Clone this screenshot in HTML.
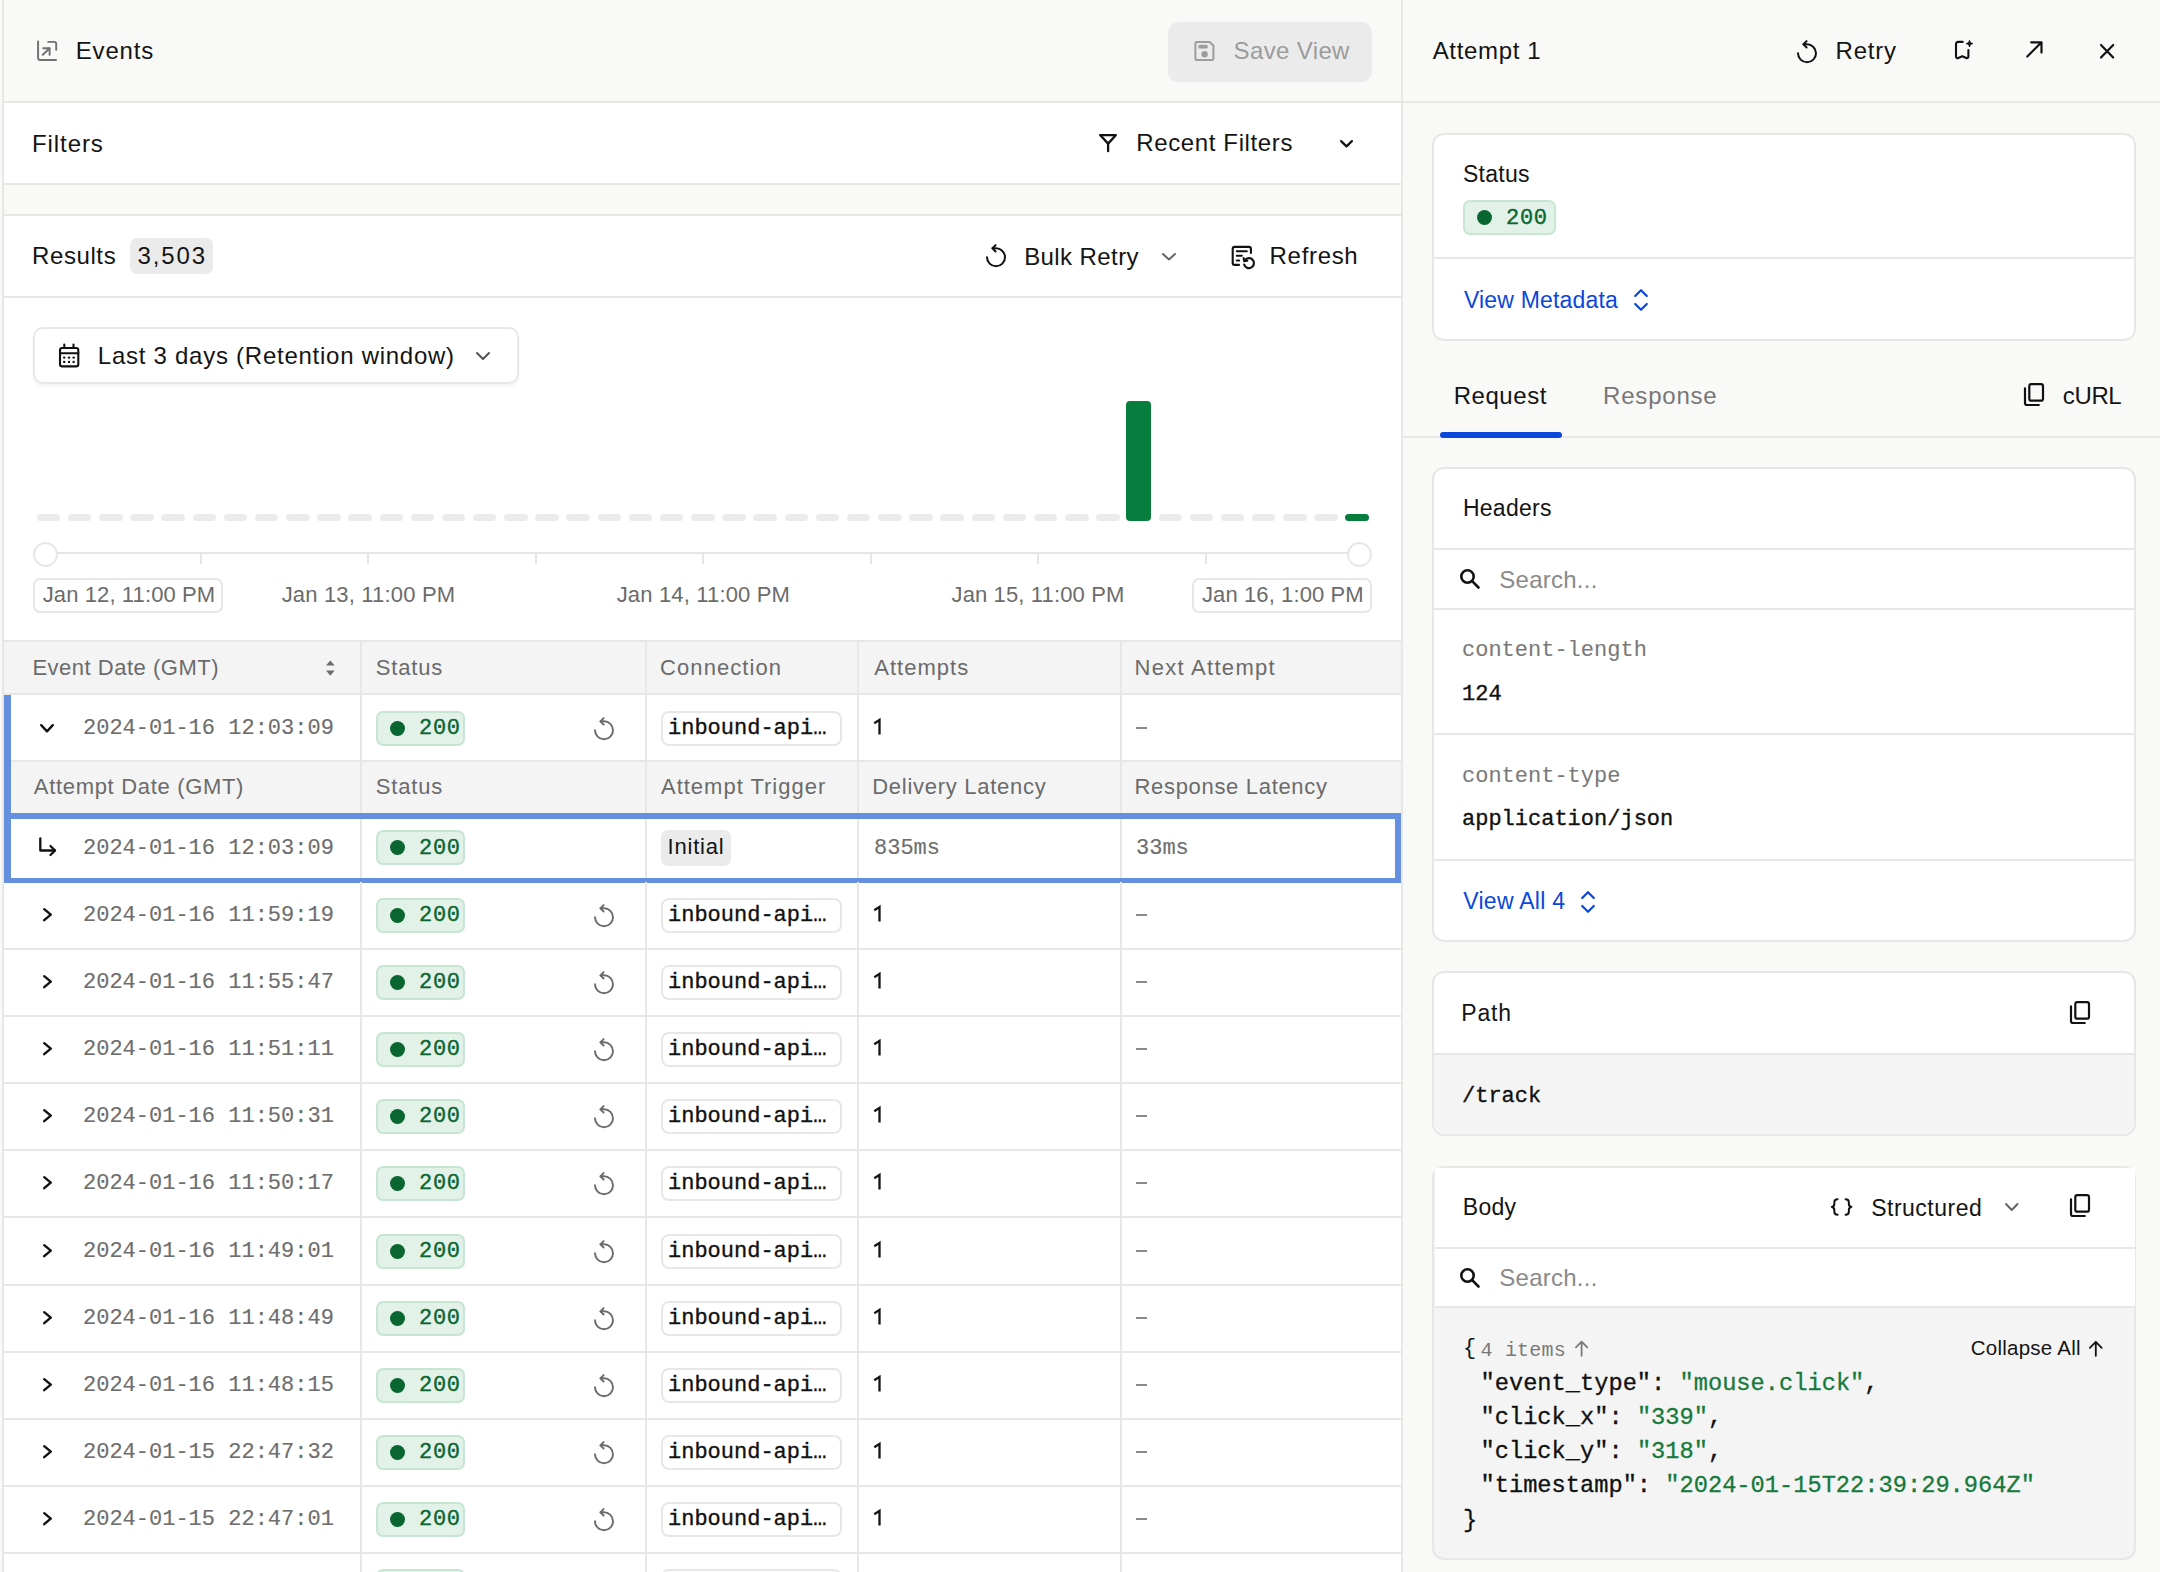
<!DOCTYPE html><html><head><meta charset="utf-8"><style>
*{box-sizing:border-box;margin:0;padding:0}
html,body{width:2160px;height:1572px;overflow:hidden;background:#f9f9f8;font-family:'Liberation Sans', sans-serif;color:#141414;letter-spacing:0.6px}
.abs{position:absolute;white-space:nowrap}
svg.abs{overflow:visible}
.t24{font-size:24px;line-height:28px}
.t22{font-size:22px;line-height:26px;letter-spacing:0.8px}
.m22{font-family:'Liberation Mono', monospace;font-size:22px;line-height:26px;letter-spacing:0;-webkit-text-stroke:0.35px currentColor}
.hl{position:absolute;height:2px;background:#e7e7e6}
.vl{position:absolute;width:2px;background:#e7e7e6}
.card{position:absolute;left:1432px;width:704px;background:#fff;border:2px solid #e7e7e6;border-radius:12px;overflow:hidden}
</style></head><body>
<div class="abs" style="left:4px;top:0px;width:1397px;height:1572px;background:#fff"></div><div class="abs" style="left:4px;top:0px;width:1397px;height:101px;background:#f9f9f8"></div><div class="hl" style="left:4px;top:101px;width:1397px"></div><div class="abs" style="left:0px;top:0px;width:2px;height:1572px;background:#f9f9f8"></div><div class="abs" style="left:2px;top:0px;width:2px;height:1572px;background:#e7e7e6"></div><div class="abs" style="left:1401px;top:0px;width:2px;height:1572px;background:#e7e7e6"></div><svg class="abs" style="left:32px;top:35.5px" width="32" height="32" viewBox="0 0 32 32" fill="none" stroke="#6f6f6f" stroke-width="1.9" stroke-linecap="round" stroke-linejoin="round" ><path d="M6.1 5.5V22a2 2 0 0 0 2 2H24"/><path d="M16.2 5.9H22.2a2 2 0 0 1 2 2V13.7"/><path d="M10.7 18.9 17.6 12.2"/><path d="M11.3 12.2H17.6V18.7"/></svg><div class="abs" style="left:75.8px;top:30.9px;font-family:'Liberation Sans', sans-serif;font-size:24px;line-height:40px;letter-spacing:0.82px;color:#141414;">Events</div><div class="abs" style="left:1168px;top:22px;width:204px;height:60px;background:#ebebeb;border-radius:10px"></div><svg class="abs" style="left:1188px;top:36px" width="32" height="30" viewBox="0 0 32 30" fill="none" stroke="#9c9c9c" stroke-width="2" stroke-linecap="round" stroke-linejoin="round" ><path d="M7.4 7.4a1.5 1.5 0 0 1 1.5-1.5H21.6L25.4 9.4V22.4a1.5 1.5 0 0 1-1.5 1.5H8.9a1.5 1.5 0 0 1-1.5-1.5z"/><rect x="10.3" y="8.8" width="9.5" height="3.6" rx="1.5" fill="#9c9c9c" stroke="none"/><circle cx="16.6" cy="18.3" r="3.2" fill="#9c9c9c" stroke="none"/></svg><div class="abs" style="left:1233.6px;top:30.9px;font-family:'Liberation Sans', sans-serif;font-size:24px;line-height:40px;letter-spacing:0.36px;color:#9b9b9b;">Save View</div><div class="abs" style="left:32.0px;top:123.6px;font-family:'Liberation Sans', sans-serif;font-size:24px;line-height:40px;letter-spacing:0.92px;color:#141414;">Filters</div><svg class="abs" style="left:1096px;top:131px" width="24" height="24" viewBox="0 0 24 24" fill="none" stroke="#111" stroke-width="2.3" stroke-linecap="round" stroke-linejoin="round" ><path d="M4.4 4.2H19.8L12.1 12.6V20.2"/><path d="M4.4 4.2 12.1 12.6"/></svg><div class="abs" style="left:1136.3px;top:123.4px;font-family:'Liberation Sans', sans-serif;font-size:24px;line-height:40px;letter-spacing:0.62px;color:#141414;">Recent Filters</div><svg class="abs" style="left:1339px;top:139px" width="15" height="9.5" viewBox="0 0 15 9.5" fill="none" stroke="#111" stroke-width="2.2" stroke-linecap="round" stroke-linejoin="round" ><path d="M2.1 2.1 L7.5 7.4 L12.9 2.1"/></svg><div class="hl" style="left:4px;top:183px;width:1397px"></div><div class="abs" style="left:4px;top:185px;width:1397px;height:29px;background:#f9f9f8"></div><div class="hl" style="left:4px;top:214px;width:1397px"></div><div class="abs" style="left:32.0px;top:236.2px;font-family:'Liberation Sans', sans-serif;font-size:24px;line-height:40px;letter-spacing:0.6px;color:#141414;">Results</div><div class="abs" style="left:130px;top:238px;width:83px;height:36px;background:#ebebeb;border-radius:7px"></div><div class="abs" style="left:137.5px;top:236.2px;font-family:'Liberation Sans', sans-serif;font-size:24px;line-height:40px;letter-spacing:1.9px;color:#141414;">3,503</div><svg class="abs" style="left:984.6px;top:243.4px" width="26" height="28" viewBox="0 0 26 28" fill="none" stroke="#111" stroke-width="2.0" stroke-linecap="round" stroke-linejoin="round" ><g transform="translate(1,1) scale(1.0)"><path d="M1 13.3A9 9 0 1 0 10 4.3H6.6"/><path d="M9.6 1.1 6.4 4.3 9.6 7.5"/></g></svg><div class="abs" style="left:1024.2px;top:236.8px;font-family:'Liberation Sans', sans-serif;font-size:24px;line-height:40px;letter-spacing:0.41px;color:#141414;">Bulk Retry</div><svg class="abs" style="left:1161px;top:251.5px" width="16" height="9.5" viewBox="0 0 16 9.5" fill="none" stroke="#666" stroke-width="2.0" stroke-linecap="round" stroke-linejoin="round" ><path d="M2.0 2.0 L8.0 7.5 L14.0 2.0"/></svg><svg class="abs" style="left:1226px;top:240px" width="36" height="34" viewBox="0 0 36 34" fill="none" stroke="#111" stroke-width="2.1" stroke-linecap="round" stroke-linejoin="round" ><path d="M13 24.9H8.7a2 2 0 0 1-2-2V8.9a2 2 0 0 1 2-2h14.2a2 2 0 0 1 2 2V13"/><path d="M10.8 11.3h10M10.8 15.8h5M10.8 20.5h2.4"/><path d="M18.2 24.6A5 5 0 1 0 19.6 19.4"/><path d="M17.6 18 18.2 21.2 21.3 20.8"/></svg><div class="abs" style="left:1269.6px;top:235.7px;font-family:'Liberation Sans', sans-serif;font-size:24px;line-height:40px;letter-spacing:0.68px;color:#141414;">Refresh</div><div class="hl" style="left:4px;top:296px;width:1397px"></div><div class="abs" style="left:33px;top:327px;width:486px;height:57px;border:2px solid #e7e7e6;border-radius:10px;box-shadow:0 2px 3px rgba(0,0,0,0.06)"></div><svg class="abs" style="left:52px;top:338px" width="34" height="34" viewBox="0 0 34 34" fill="none" stroke="#111" stroke-width="2.1" stroke-linecap="round" stroke-linejoin="round" ><rect x="8" y="10" width="18.3" height="18.4" rx="2.2"/><path d="M8 15.2h18.3M12.3 6.6v3.4M21.5 6.6v3.4"/><g fill="#111" stroke="none"><circle cx="12.2" cy="19.6" r="1.2"/><circle cx="17" cy="19.6" r="1.2"/><circle cx="21.6" cy="19.6" r="1.2"/><circle cx="12.2" cy="23.9" r="1.2"/><circle cx="17" cy="23.9" r="1.2"/><circle cx="21.6" cy="23.9" r="1.2"/></g></svg><div class="abs" style="left:97.8px;top:335.9px;font-family:'Liberation Sans', sans-serif;font-size:24px;line-height:40px;letter-spacing:0.74px;color:#141414;">Last 3 days (Retention window)</div><svg class="abs" style="left:475px;top:351px" width="16" height="10" viewBox="0 0 16 10" fill="none" stroke="#555" stroke-width="2.0" stroke-linecap="round" stroke-linejoin="round" ><path d="M2.0 2.0 L8.0 8.0 L14.0 2.0"/></svg><div class="abs" style="left:36.7px;top:513.5px;width:23.5px;height:7.5px;background:#ebebeb;border-radius:4px"></div><div class="abs" style="left:67.9px;top:513.5px;width:23.5px;height:7.5px;background:#ebebeb;border-radius:4px"></div><div class="abs" style="left:99.0px;top:513.5px;width:23.5px;height:7.5px;background:#ebebeb;border-radius:4px"></div><div class="abs" style="left:130.2px;top:513.5px;width:23.5px;height:7.5px;background:#ebebeb;border-radius:4px"></div><div class="abs" style="left:161.3px;top:513.5px;width:23.5px;height:7.5px;background:#ebebeb;border-radius:4px"></div><div class="abs" style="left:192.5px;top:513.5px;width:23.5px;height:7.5px;background:#ebebeb;border-radius:4px"></div><div class="abs" style="left:223.7px;top:513.5px;width:23.5px;height:7.5px;background:#ebebeb;border-radius:4px"></div><div class="abs" style="left:254.8px;top:513.5px;width:23.5px;height:7.5px;background:#ebebeb;border-radius:4px"></div><div class="abs" style="left:286.0px;top:513.5px;width:23.5px;height:7.5px;background:#ebebeb;border-radius:4px"></div><div class="abs" style="left:317.1px;top:513.5px;width:23.5px;height:7.5px;background:#ebebeb;border-radius:4px"></div><div class="abs" style="left:348.3px;top:513.5px;width:23.5px;height:7.5px;background:#ebebeb;border-radius:4px"></div><div class="abs" style="left:379.5px;top:513.5px;width:23.5px;height:7.5px;background:#ebebeb;border-radius:4px"></div><div class="abs" style="left:410.6px;top:513.5px;width:23.5px;height:7.5px;background:#ebebeb;border-radius:4px"></div><div class="abs" style="left:441.8px;top:513.5px;width:23.5px;height:7.5px;background:#ebebeb;border-radius:4px"></div><div class="abs" style="left:472.9px;top:513.5px;width:23.5px;height:7.5px;background:#ebebeb;border-radius:4px"></div><div class="abs" style="left:504.1px;top:513.5px;width:23.5px;height:7.5px;background:#ebebeb;border-radius:4px"></div><div class="abs" style="left:535.3px;top:513.5px;width:23.5px;height:7.5px;background:#ebebeb;border-radius:4px"></div><div class="abs" style="left:566.4px;top:513.5px;width:23.5px;height:7.5px;background:#ebebeb;border-radius:4px"></div><div class="abs" style="left:597.6px;top:513.5px;width:23.5px;height:7.5px;background:#ebebeb;border-radius:4px"></div><div class="abs" style="left:628.7px;top:513.5px;width:23.5px;height:7.5px;background:#ebebeb;border-radius:4px"></div><div class="abs" style="left:659.9px;top:513.5px;width:23.5px;height:7.5px;background:#ebebeb;border-radius:4px"></div><div class="abs" style="left:691.1px;top:513.5px;width:23.5px;height:7.5px;background:#ebebeb;border-radius:4px"></div><div class="abs" style="left:722.2px;top:513.5px;width:23.5px;height:7.5px;background:#ebebeb;border-radius:4px"></div><div class="abs" style="left:753.4px;top:513.5px;width:23.5px;height:7.5px;background:#ebebeb;border-radius:4px"></div><div class="abs" style="left:784.5px;top:513.5px;width:23.5px;height:7.5px;background:#ebebeb;border-radius:4px"></div><div class="abs" style="left:815.7px;top:513.5px;width:23.5px;height:7.5px;background:#ebebeb;border-radius:4px"></div><div class="abs" style="left:846.9px;top:513.5px;width:23.5px;height:7.5px;background:#ebebeb;border-radius:4px"></div><div class="abs" style="left:878.0px;top:513.5px;width:23.5px;height:7.5px;background:#ebebeb;border-radius:4px"></div><div class="abs" style="left:909.2px;top:513.5px;width:23.5px;height:7.5px;background:#ebebeb;border-radius:4px"></div><div class="abs" style="left:940.3px;top:513.5px;width:23.5px;height:7.5px;background:#ebebeb;border-radius:4px"></div><div class="abs" style="left:971.5px;top:513.5px;width:23.5px;height:7.5px;background:#ebebeb;border-radius:4px"></div><div class="abs" style="left:1002.7px;top:513.5px;width:23.5px;height:7.5px;background:#ebebeb;border-radius:4px"></div><div class="abs" style="left:1033.8px;top:513.5px;width:23.5px;height:7.5px;background:#ebebeb;border-radius:4px"></div><div class="abs" style="left:1065.0px;top:513.5px;width:23.5px;height:7.5px;background:#ebebeb;border-radius:4px"></div><div class="abs" style="left:1096.1px;top:513.5px;width:23.5px;height:7.5px;background:#ebebeb;border-radius:4px"></div><div class="abs" style="left:1126px;top:401px;width:25px;height:120px;background:#077d3e;border-radius:4px"></div><div class="abs" style="left:1158.5px;top:513.5px;width:23.5px;height:7.5px;background:#ebebeb;border-radius:4px"></div><div class="abs" style="left:1189.6px;top:513.5px;width:23.5px;height:7.5px;background:#ebebeb;border-radius:4px"></div><div class="abs" style="left:1220.8px;top:513.5px;width:23.5px;height:7.5px;background:#ebebeb;border-radius:4px"></div><div class="abs" style="left:1251.9px;top:513.5px;width:23.5px;height:7.5px;background:#ebebeb;border-radius:4px"></div><div class="abs" style="left:1283.1px;top:513.5px;width:23.5px;height:7.5px;background:#ebebeb;border-radius:4px"></div><div class="abs" style="left:1314.3px;top:513.5px;width:23.5px;height:7.5px;background:#ebebeb;border-radius:4px"></div><div class="abs" style="left:1345.4px;top:513.5px;width:23.5px;height:7.5px;background:#077d3e;border-radius:4px"></div><div class="abs" style="left:45px;top:552px;width:1314px;height:2px;background:#e6e6e6"></div><div class="abs" style="left:200px;top:553px;width:2px;height:11px;background:#e6e6e6"></div><div class="abs" style="left:367px;top:553px;width:2px;height:11px;background:#e6e6e6"></div><div class="abs" style="left:535px;top:553px;width:2px;height:11px;background:#e6e6e6"></div><div class="abs" style="left:702px;top:553px;width:2px;height:11px;background:#e6e6e6"></div><div class="abs" style="left:870px;top:553px;width:2px;height:11px;background:#e6e6e6"></div><div class="abs" style="left:1037px;top:553px;width:2px;height:11px;background:#e6e6e6"></div><div class="abs" style="left:1205px;top:553px;width:2px;height:11px;background:#e6e6e6"></div><div class="abs" style="left:33px;top:541.5px;width:25px;height:25px;border-radius:50%;border:2px solid #e7e7e6;background:#fff"></div><div class="abs" style="left:1347px;top:541.5px;width:25px;height:25px;border-radius:50%;border:2px solid #e7e7e6;background:#fff"></div><div class="abs" style="left:33px;top:578px;width:190px;height:35px;border:2px solid #e7e7e6;border-radius:7px"></div><div class="abs" style="left:1192px;top:578px;width:180px;height:35px;border:2px solid #e7e7e6;border-radius:7px"></div><div class="abs" style="left:42.7px;top:574.7px;font-family:'Liberation Sans', sans-serif;font-size:22px;line-height:40px;letter-spacing:0.11px;color:#6b6b6b;">Jan 12, 11:00 PM</div><div class="abs" style="left:281.7px;top:574.7px;font-family:'Liberation Sans', sans-serif;font-size:22px;line-height:40px;letter-spacing:0.17px;color:#6b6b6b;">Jan 13, 11:00 PM</div><div class="abs" style="left:616.7px;top:574.7px;font-family:'Liberation Sans', sans-serif;font-size:22px;line-height:40px;letter-spacing:0.16px;color:#6b6b6b;">Jan 14, 11:00 PM</div><div class="abs" style="left:951.5px;top:574.7px;font-family:'Liberation Sans', sans-serif;font-size:22px;line-height:40px;letter-spacing:0.13px;color:#6b6b6b;">Jan 15, 11:00 PM</div><div class="abs" style="left:1202.0px;top:574.7px;font-family:'Liberation Sans', sans-serif;font-size:22px;line-height:40px;letter-spacing:0.1px;color:#6b6b6b;">Jan 16, 1:00 PM</div><div class="abs" style="left:4px;top:641px;width:1397px;height:54px;background:#f4f4f4"></div><div class="hl" style="left:4px;top:640px;width:1397px"></div><div class="hl" style="left:4px;top:693px;width:1397px"></div><div class="vl" style="left:360px;top:642px;height:51px"></div><div class="vl" style="left:645px;top:642px;height:51px"></div><div class="vl" style="left:857px;top:642px;height:51px"></div><div class="vl" style="left:1120px;top:642px;height:51px"></div><div class="abs" style="left:32.4px;top:648.3px;font-family:'Liberation Sans', sans-serif;font-size:22px;line-height:40px;letter-spacing:0.51px;color:#6b6b6b;">Event Date (GMT)</div><svg class="abs" style="left:324px;top:659px" width="14" height="20" viewBox="0 0 14 20" fill="#6b6b6b" stroke="none" stroke-width="0" stroke-linecap="round" stroke-linejoin="round" ><path d="M6.3 1.5 10.6 6.6H2z"/><path d="M6.3 16.7 10.6 11.6H2z"/></svg><div class="abs" style="left:375.7px;top:648.3px;font-family:'Liberation Sans', sans-serif;font-size:22px;line-height:40px;letter-spacing:0.86px;color:#6b6b6b;">Status</div><div class="abs" style="left:660.0px;top:648.3px;font-family:'Liberation Sans', sans-serif;font-size:22px;line-height:40px;letter-spacing:1.09px;color:#6b6b6b;">Connection</div><div class="abs" style="left:874.2px;top:648.3px;font-family:'Liberation Sans', sans-serif;font-size:22px;line-height:40px;letter-spacing:1.04px;color:#6b6b6b;">Attempts</div><div class="abs" style="left:1134.5px;top:648.3px;font-family:'Liberation Sans', sans-serif;font-size:22px;line-height:40px;letter-spacing:1.29px;color:#6b6b6b;">Next Attempt</div><div class="vl" style="left:360px;top:695px;height:66px"></div><div class="vl" style="left:645px;top:695px;height:66px"></div><div class="vl" style="left:857px;top:695px;height:66px"></div><div class="vl" style="left:1120px;top:695px;height:66px"></div><svg class="abs" style="left:39px;top:723.0px" width="16" height="10.5" viewBox="0 0 16 10.5" fill="none" stroke="#111" stroke-width="2.4" stroke-linecap="round" stroke-linejoin="round" ><path d="M2.2 2.2 L8.0 8.3 L13.8 2.2"/></svg><div class="abs m22" style="left:83px;top:716.0px;color:#6e6e6e;-webkit-text-stroke:0.15px currentColor">2024-01-16 12:03:09</div><div class="abs" style="left:376px;top:710.5px;width:89px;height:35px;border-radius:7px;background:#e3f2e8;border:2px solid #c7e6d1"></div><div class="abs" style="left:390px;top:720.5px;width:15px;height:15px;border-radius:50%;background:#0a6631"></div><div class="abs" style="left:419px;top:716.0px;font-family:'Liberation Mono', monospace;font-size:22px;line-height:26px;letter-spacing:0.7px;color:#0a6631;-webkit-text-stroke:0.4px #0a6631">200</div><svg class="abs" style="left:593.3px;top:716.0px" width="26" height="28" viewBox="0 0 26 28" fill="none" stroke="#6a6a6a" stroke-width="1.9" stroke-linecap="round" stroke-linejoin="round" ><g transform="translate(1,1) scale(1.0)"><path d="M1 13.3A9 9 0 1 0 10 4.3H6.6"/><path d="M9.6 1.1 6.4 4.3 9.6 7.5"/></g></svg><div class="abs" style="left:661px;top:710.5px;width:181px;height:35px;border:2px solid #e7e7e6;border-radius:8px;background:#fff"></div><div class="abs m22" style="left:668px;top:716.0px;color:#111">inbound-api…</div><svg class="abs" style="left:870px;top:718.2px" width="14" height="24" viewBox="0 0 14 24" fill="none" stroke="#141414" stroke-width="2.3" stroke-linecap="round" stroke-linejoin="round" ><path d="M4.3 5.3 9.5 1.9V16.6" stroke-linecap="butt" stroke-linejoin="miter"/></svg><div class="abs" style="left:1136px;top:727.0px;width:11px;height:2px;background:#8a8a8a"></div><div class="hl" style="left:4px;top:760px;width:1397px"></div><div class="abs" style="left:4px;top:762px;width:1397px;height:52px;background:#f4f4f4"></div><div class="vl" style="left:360px;top:762px;height:52px"></div><div class="vl" style="left:645px;top:762px;height:52px"></div><div class="vl" style="left:857px;top:762px;height:52px"></div><div class="vl" style="left:1120px;top:762px;height:52px"></div><div class="abs" style="left:33.8px;top:767.2px;font-family:'Liberation Sans', sans-serif;font-size:22px;line-height:40px;letter-spacing:0.68px;color:#6b6b6b;">Attempt Date (GMT)</div><div class="abs" style="left:375.7px;top:767.2px;font-family:'Liberation Sans', sans-serif;font-size:22px;line-height:40px;letter-spacing:0.86px;color:#6b6b6b;">Status</div><div class="abs" style="left:661.0px;top:767.2px;font-family:'Liberation Sans', sans-serif;font-size:22px;line-height:40px;letter-spacing:0.99px;color:#6b6b6b;">Attempt Trigger</div><div class="abs" style="left:872.2px;top:767.2px;font-family:'Liberation Sans', sans-serif;font-size:22px;line-height:40px;letter-spacing:0.73px;color:#6b6b6b;">Delivery Latency</div><div class="abs" style="left:1134.5px;top:767.2px;font-family:'Liberation Sans', sans-serif;font-size:22px;line-height:40px;letter-spacing:0.68px;color:#6b6b6b;">Response Latency</div><div class="vl" style="left:360px;top:816px;height:64px"></div><div class="vl" style="left:645px;top:816px;height:64px"></div><div class="vl" style="left:857px;top:816px;height:64px"></div><div class="vl" style="left:1120px;top:816px;height:64px"></div><svg class="abs" style="left:36px;top:835px" width="24" height="24" viewBox="0 0 24 24" fill="none" stroke="#111" stroke-width="2.3" stroke-linecap="round" stroke-linejoin="round" ><path d="M4.3 3.3V15.5H19"/><path d="M14.5 11 19 15.5 14.5 20"/></svg><div class="abs m22" style="left:83px;top:835.5px;color:#6e6e6e;-webkit-text-stroke:0.15px currentColor">2024-01-16 12:03:09</div><div class="abs" style="left:376px;top:830.0px;width:89px;height:35px;border-radius:7px;background:#e3f2e8;border:2px solid #c7e6d1"></div><div class="abs" style="left:390px;top:840.0px;width:15px;height:15px;border-radius:50%;background:#0a6631"></div><div class="abs" style="left:419px;top:835.5px;font-family:'Liberation Mono', monospace;font-size:22px;line-height:26px;letter-spacing:0.7px;color:#0a6631;-webkit-text-stroke:0.4px #0a6631">200</div><div class="abs" style="left:661px;top:829.5px;width:70px;height:36px;background:#ebebeb;border-radius:7px"></div><div class="abs" style="left:667.6px;top:827.4px;font-family:'Liberation Sans', sans-serif;font-size:22px;line-height:40px;letter-spacing:0.77px;color:#141414;">Initial</div><div class="abs m22" style="left:874px;top:835.5px;color:#6e6e6e;-webkit-text-stroke:0.15px currentColor">835ms</div><div class="abs m22" style="left:1136px;top:835.5px;color:#6e6e6e;-webkit-text-stroke:0.15px currentColor">33ms</div><div class="abs" style="left:4px;top:695px;width:7px;height:119px;background:#6590e0"></div><div class="abs" style="left:4px;top:813px;width:1397px;height:69.5px;border:5px solid #6590e0;border-top-width:6px;border-left-width:7px;border-right-width:6px"></div><div class="vl" style="left:360px;top:882px;height:66px"></div><div class="vl" style="left:645px;top:882px;height:66px"></div><div class="vl" style="left:857px;top:882px;height:66px"></div><div class="vl" style="left:1120px;top:882px;height:66px"></div><svg class="abs" style="left:41.5px;top:907.3px" width="11" height="15.4" viewBox="0 0 11 15.4" fill="none" stroke="#111" stroke-width="2.4" stroke-linecap="round" stroke-linejoin="round" ><path d="M2.2 2.2 L8.8 7.7 L2.2 13.200000000000001"/></svg><div class="abs m22" style="left:83px;top:903.0px;color:#6e6e6e;-webkit-text-stroke:0.15px currentColor">2024-01-16 11:59:19</div><div class="abs" style="left:376px;top:897.5px;width:89px;height:35px;border-radius:7px;background:#e3f2e8;border:2px solid #c7e6d1"></div><div class="abs" style="left:390px;top:907.5px;width:15px;height:15px;border-radius:50%;background:#0a6631"></div><div class="abs" style="left:419px;top:903.0px;font-family:'Liberation Mono', monospace;font-size:22px;line-height:26px;letter-spacing:0.7px;color:#0a6631;-webkit-text-stroke:0.4px #0a6631">200</div><svg class="abs" style="left:593.3px;top:903.0px" width="26" height="28" viewBox="0 0 26 28" fill="none" stroke="#6a6a6a" stroke-width="1.9" stroke-linecap="round" stroke-linejoin="round" ><g transform="translate(1,1) scale(1.0)"><path d="M1 13.3A9 9 0 1 0 10 4.3H6.6"/><path d="M9.6 1.1 6.4 4.3 9.6 7.5"/></g></svg><div class="abs" style="left:661px;top:897.5px;width:181px;height:35px;border:2px solid #e7e7e6;border-radius:8px;background:#fff"></div><div class="abs m22" style="left:668px;top:903.0px;color:#111">inbound-api…</div><svg class="abs" style="left:870px;top:905.2px" width="14" height="24" viewBox="0 0 14 24" fill="none" stroke="#141414" stroke-width="2.3" stroke-linecap="round" stroke-linejoin="round" ><path d="M4.3 5.3 9.5 1.9V16.6" stroke-linecap="butt" stroke-linejoin="miter"/></svg><div class="abs" style="left:1136px;top:914.0px;width:11px;height:2px;background:#8a8a8a"></div><div class="hl" style="left:4px;top:948px;width:1397px"></div><div class="vl" style="left:360px;top:949px;height:66px"></div><div class="vl" style="left:645px;top:949px;height:66px"></div><div class="vl" style="left:857px;top:949px;height:66px"></div><div class="vl" style="left:1120px;top:949px;height:66px"></div><svg class="abs" style="left:41.5px;top:974.3px" width="11" height="15.4" viewBox="0 0 11 15.4" fill="none" stroke="#111" stroke-width="2.4" stroke-linecap="round" stroke-linejoin="round" ><path d="M2.2 2.2 L8.8 7.7 L2.2 13.200000000000001"/></svg><div class="abs m22" style="left:83px;top:970.0px;color:#6e6e6e;-webkit-text-stroke:0.15px currentColor">2024-01-16 11:55:47</div><div class="abs" style="left:376px;top:964.5px;width:89px;height:35px;border-radius:7px;background:#e3f2e8;border:2px solid #c7e6d1"></div><div class="abs" style="left:390px;top:974.5px;width:15px;height:15px;border-radius:50%;background:#0a6631"></div><div class="abs" style="left:419px;top:970.0px;font-family:'Liberation Mono', monospace;font-size:22px;line-height:26px;letter-spacing:0.7px;color:#0a6631;-webkit-text-stroke:0.4px #0a6631">200</div><svg class="abs" style="left:593.3px;top:970.0px" width="26" height="28" viewBox="0 0 26 28" fill="none" stroke="#6a6a6a" stroke-width="1.9" stroke-linecap="round" stroke-linejoin="round" ><g transform="translate(1,1) scale(1.0)"><path d="M1 13.3A9 9 0 1 0 10 4.3H6.6"/><path d="M9.6 1.1 6.4 4.3 9.6 7.5"/></g></svg><div class="abs" style="left:661px;top:964.5px;width:181px;height:35px;border:2px solid #e7e7e6;border-radius:8px;background:#fff"></div><div class="abs m22" style="left:668px;top:970.0px;color:#111">inbound-api…</div><svg class="abs" style="left:870px;top:972.2px" width="14" height="24" viewBox="0 0 14 24" fill="none" stroke="#141414" stroke-width="2.3" stroke-linecap="round" stroke-linejoin="round" ><path d="M4.3 5.3 9.5 1.9V16.6" stroke-linecap="butt" stroke-linejoin="miter"/></svg><div class="abs" style="left:1136px;top:981.0px;width:11px;height:2px;background:#8a8a8a"></div><div class="hl" style="left:4px;top:1015px;width:1397px"></div><div class="vl" style="left:360px;top:1016px;height:66px"></div><div class="vl" style="left:645px;top:1016px;height:66px"></div><div class="vl" style="left:857px;top:1016px;height:66px"></div><div class="vl" style="left:1120px;top:1016px;height:66px"></div><svg class="abs" style="left:41.5px;top:1041.3px" width="11" height="15.4" viewBox="0 0 11 15.4" fill="none" stroke="#111" stroke-width="2.4" stroke-linecap="round" stroke-linejoin="round" ><path d="M2.2 2.2 L8.8 7.7 L2.2 13.200000000000001"/></svg><div class="abs m22" style="left:83px;top:1037.0px;color:#6e6e6e;-webkit-text-stroke:0.15px currentColor">2024-01-16 11:51:11</div><div class="abs" style="left:376px;top:1031.5px;width:89px;height:35px;border-radius:7px;background:#e3f2e8;border:2px solid #c7e6d1"></div><div class="abs" style="left:390px;top:1041.5px;width:15px;height:15px;border-radius:50%;background:#0a6631"></div><div class="abs" style="left:419px;top:1037.0px;font-family:'Liberation Mono', monospace;font-size:22px;line-height:26px;letter-spacing:0.7px;color:#0a6631;-webkit-text-stroke:0.4px #0a6631">200</div><svg class="abs" style="left:593.3px;top:1037.0px" width="26" height="28" viewBox="0 0 26 28" fill="none" stroke="#6a6a6a" stroke-width="1.9" stroke-linecap="round" stroke-linejoin="round" ><g transform="translate(1,1) scale(1.0)"><path d="M1 13.3A9 9 0 1 0 10 4.3H6.6"/><path d="M9.6 1.1 6.4 4.3 9.6 7.5"/></g></svg><div class="abs" style="left:661px;top:1031.5px;width:181px;height:35px;border:2px solid #e7e7e6;border-radius:8px;background:#fff"></div><div class="abs m22" style="left:668px;top:1037.0px;color:#111">inbound-api…</div><svg class="abs" style="left:870px;top:1039.2px" width="14" height="24" viewBox="0 0 14 24" fill="none" stroke="#141414" stroke-width="2.3" stroke-linecap="round" stroke-linejoin="round" ><path d="M4.3 5.3 9.5 1.9V16.6" stroke-linecap="butt" stroke-linejoin="miter"/></svg><div class="abs" style="left:1136px;top:1048.0px;width:11px;height:2px;background:#8a8a8a"></div><div class="hl" style="left:4px;top:1082px;width:1397px"></div><div class="vl" style="left:360px;top:1083px;height:66px"></div><div class="vl" style="left:645px;top:1083px;height:66px"></div><div class="vl" style="left:857px;top:1083px;height:66px"></div><div class="vl" style="left:1120px;top:1083px;height:66px"></div><svg class="abs" style="left:41.5px;top:1108.3px" width="11" height="15.4" viewBox="0 0 11 15.4" fill="none" stroke="#111" stroke-width="2.4" stroke-linecap="round" stroke-linejoin="round" ><path d="M2.2 2.2 L8.8 7.7 L2.2 13.200000000000001"/></svg><div class="abs m22" style="left:83px;top:1104.0px;color:#6e6e6e;-webkit-text-stroke:0.15px currentColor">2024-01-16 11:50:31</div><div class="abs" style="left:376px;top:1098.5px;width:89px;height:35px;border-radius:7px;background:#e3f2e8;border:2px solid #c7e6d1"></div><div class="abs" style="left:390px;top:1108.5px;width:15px;height:15px;border-radius:50%;background:#0a6631"></div><div class="abs" style="left:419px;top:1104.0px;font-family:'Liberation Mono', monospace;font-size:22px;line-height:26px;letter-spacing:0.7px;color:#0a6631;-webkit-text-stroke:0.4px #0a6631">200</div><svg class="abs" style="left:593.3px;top:1104.0px" width="26" height="28" viewBox="0 0 26 28" fill="none" stroke="#6a6a6a" stroke-width="1.9" stroke-linecap="round" stroke-linejoin="round" ><g transform="translate(1,1) scale(1.0)"><path d="M1 13.3A9 9 0 1 0 10 4.3H6.6"/><path d="M9.6 1.1 6.4 4.3 9.6 7.5"/></g></svg><div class="abs" style="left:661px;top:1098.5px;width:181px;height:35px;border:2px solid #e7e7e6;border-radius:8px;background:#fff"></div><div class="abs m22" style="left:668px;top:1104.0px;color:#111">inbound-api…</div><svg class="abs" style="left:870px;top:1106.2px" width="14" height="24" viewBox="0 0 14 24" fill="none" stroke="#141414" stroke-width="2.3" stroke-linecap="round" stroke-linejoin="round" ><path d="M4.3 5.3 9.5 1.9V16.6" stroke-linecap="butt" stroke-linejoin="miter"/></svg><div class="abs" style="left:1136px;top:1115.0px;width:11px;height:2px;background:#8a8a8a"></div><div class="hl" style="left:4px;top:1149px;width:1397px"></div><div class="vl" style="left:360px;top:1150px;height:66px"></div><div class="vl" style="left:645px;top:1150px;height:66px"></div><div class="vl" style="left:857px;top:1150px;height:66px"></div><div class="vl" style="left:1120px;top:1150px;height:66px"></div><svg class="abs" style="left:41.5px;top:1175.3px" width="11" height="15.4" viewBox="0 0 11 15.4" fill="none" stroke="#111" stroke-width="2.4" stroke-linecap="round" stroke-linejoin="round" ><path d="M2.2 2.2 L8.8 7.7 L2.2 13.200000000000001"/></svg><div class="abs m22" style="left:83px;top:1171.0px;color:#6e6e6e;-webkit-text-stroke:0.15px currentColor">2024-01-16 11:50:17</div><div class="abs" style="left:376px;top:1165.5px;width:89px;height:35px;border-radius:7px;background:#e3f2e8;border:2px solid #c7e6d1"></div><div class="abs" style="left:390px;top:1175.5px;width:15px;height:15px;border-radius:50%;background:#0a6631"></div><div class="abs" style="left:419px;top:1171.0px;font-family:'Liberation Mono', monospace;font-size:22px;line-height:26px;letter-spacing:0.7px;color:#0a6631;-webkit-text-stroke:0.4px #0a6631">200</div><svg class="abs" style="left:593.3px;top:1171.0px" width="26" height="28" viewBox="0 0 26 28" fill="none" stroke="#6a6a6a" stroke-width="1.9" stroke-linecap="round" stroke-linejoin="round" ><g transform="translate(1,1) scale(1.0)"><path d="M1 13.3A9 9 0 1 0 10 4.3H6.6"/><path d="M9.6 1.1 6.4 4.3 9.6 7.5"/></g></svg><div class="abs" style="left:661px;top:1165.5px;width:181px;height:35px;border:2px solid #e7e7e6;border-radius:8px;background:#fff"></div><div class="abs m22" style="left:668px;top:1171.0px;color:#111">inbound-api…</div><svg class="abs" style="left:870px;top:1173.2px" width="14" height="24" viewBox="0 0 14 24" fill="none" stroke="#141414" stroke-width="2.3" stroke-linecap="round" stroke-linejoin="round" ><path d="M4.3 5.3 9.5 1.9V16.6" stroke-linecap="butt" stroke-linejoin="miter"/></svg><div class="abs" style="left:1136px;top:1182.0px;width:11px;height:2px;background:#8a8a8a"></div><div class="hl" style="left:4px;top:1216px;width:1397px"></div><div class="vl" style="left:360px;top:1218px;height:66px"></div><div class="vl" style="left:645px;top:1218px;height:66px"></div><div class="vl" style="left:857px;top:1218px;height:66px"></div><div class="vl" style="left:1120px;top:1218px;height:66px"></div><svg class="abs" style="left:41.5px;top:1243.3px" width="11" height="15.4" viewBox="0 0 11 15.4" fill="none" stroke="#111" stroke-width="2.4" stroke-linecap="round" stroke-linejoin="round" ><path d="M2.2 2.2 L8.8 7.7 L2.2 13.200000000000001"/></svg><div class="abs m22" style="left:83px;top:1239.0px;color:#6e6e6e;-webkit-text-stroke:0.15px currentColor">2024-01-16 11:49:01</div><div class="abs" style="left:376px;top:1233.5px;width:89px;height:35px;border-radius:7px;background:#e3f2e8;border:2px solid #c7e6d1"></div><div class="abs" style="left:390px;top:1243.5px;width:15px;height:15px;border-radius:50%;background:#0a6631"></div><div class="abs" style="left:419px;top:1239.0px;font-family:'Liberation Mono', monospace;font-size:22px;line-height:26px;letter-spacing:0.7px;color:#0a6631;-webkit-text-stroke:0.4px #0a6631">200</div><svg class="abs" style="left:593.3px;top:1239.0px" width="26" height="28" viewBox="0 0 26 28" fill="none" stroke="#6a6a6a" stroke-width="1.9" stroke-linecap="round" stroke-linejoin="round" ><g transform="translate(1,1) scale(1.0)"><path d="M1 13.3A9 9 0 1 0 10 4.3H6.6"/><path d="M9.6 1.1 6.4 4.3 9.6 7.5"/></g></svg><div class="abs" style="left:661px;top:1233.5px;width:181px;height:35px;border:2px solid #e7e7e6;border-radius:8px;background:#fff"></div><div class="abs m22" style="left:668px;top:1239.0px;color:#111">inbound-api…</div><svg class="abs" style="left:870px;top:1241.2px" width="14" height="24" viewBox="0 0 14 24" fill="none" stroke="#141414" stroke-width="2.3" stroke-linecap="round" stroke-linejoin="round" ><path d="M4.3 5.3 9.5 1.9V16.6" stroke-linecap="butt" stroke-linejoin="miter"/></svg><div class="abs" style="left:1136px;top:1250.0px;width:11px;height:2px;background:#8a8a8a"></div><div class="hl" style="left:4px;top:1284px;width:1397px"></div><div class="vl" style="left:360px;top:1285px;height:66px"></div><div class="vl" style="left:645px;top:1285px;height:66px"></div><div class="vl" style="left:857px;top:1285px;height:66px"></div><div class="vl" style="left:1120px;top:1285px;height:66px"></div><svg class="abs" style="left:41.5px;top:1310.3px" width="11" height="15.4" viewBox="0 0 11 15.4" fill="none" stroke="#111" stroke-width="2.4" stroke-linecap="round" stroke-linejoin="round" ><path d="M2.2 2.2 L8.8 7.7 L2.2 13.200000000000001"/></svg><div class="abs m22" style="left:83px;top:1306.0px;color:#6e6e6e;-webkit-text-stroke:0.15px currentColor">2024-01-16 11:48:49</div><div class="abs" style="left:376px;top:1300.5px;width:89px;height:35px;border-radius:7px;background:#e3f2e8;border:2px solid #c7e6d1"></div><div class="abs" style="left:390px;top:1310.5px;width:15px;height:15px;border-radius:50%;background:#0a6631"></div><div class="abs" style="left:419px;top:1306.0px;font-family:'Liberation Mono', monospace;font-size:22px;line-height:26px;letter-spacing:0.7px;color:#0a6631;-webkit-text-stroke:0.4px #0a6631">200</div><svg class="abs" style="left:593.3px;top:1306.0px" width="26" height="28" viewBox="0 0 26 28" fill="none" stroke="#6a6a6a" stroke-width="1.9" stroke-linecap="round" stroke-linejoin="round" ><g transform="translate(1,1) scale(1.0)"><path d="M1 13.3A9 9 0 1 0 10 4.3H6.6"/><path d="M9.6 1.1 6.4 4.3 9.6 7.5"/></g></svg><div class="abs" style="left:661px;top:1300.5px;width:181px;height:35px;border:2px solid #e7e7e6;border-radius:8px;background:#fff"></div><div class="abs m22" style="left:668px;top:1306.0px;color:#111">inbound-api…</div><svg class="abs" style="left:870px;top:1308.2px" width="14" height="24" viewBox="0 0 14 24" fill="none" stroke="#141414" stroke-width="2.3" stroke-linecap="round" stroke-linejoin="round" ><path d="M4.3 5.3 9.5 1.9V16.6" stroke-linecap="butt" stroke-linejoin="miter"/></svg><div class="abs" style="left:1136px;top:1317.0px;width:11px;height:2px;background:#8a8a8a"></div><div class="hl" style="left:4px;top:1351px;width:1397px"></div><div class="vl" style="left:360px;top:1352px;height:66px"></div><div class="vl" style="left:645px;top:1352px;height:66px"></div><div class="vl" style="left:857px;top:1352px;height:66px"></div><div class="vl" style="left:1120px;top:1352px;height:66px"></div><svg class="abs" style="left:41.5px;top:1377.3px" width="11" height="15.4" viewBox="0 0 11 15.4" fill="none" stroke="#111" stroke-width="2.4" stroke-linecap="round" stroke-linejoin="round" ><path d="M2.2 2.2 L8.8 7.7 L2.2 13.200000000000001"/></svg><div class="abs m22" style="left:83px;top:1373.0px;color:#6e6e6e;-webkit-text-stroke:0.15px currentColor">2024-01-16 11:48:15</div><div class="abs" style="left:376px;top:1367.5px;width:89px;height:35px;border-radius:7px;background:#e3f2e8;border:2px solid #c7e6d1"></div><div class="abs" style="left:390px;top:1377.5px;width:15px;height:15px;border-radius:50%;background:#0a6631"></div><div class="abs" style="left:419px;top:1373.0px;font-family:'Liberation Mono', monospace;font-size:22px;line-height:26px;letter-spacing:0.7px;color:#0a6631;-webkit-text-stroke:0.4px #0a6631">200</div><svg class="abs" style="left:593.3px;top:1373.0px" width="26" height="28" viewBox="0 0 26 28" fill="none" stroke="#6a6a6a" stroke-width="1.9" stroke-linecap="round" stroke-linejoin="round" ><g transform="translate(1,1) scale(1.0)"><path d="M1 13.3A9 9 0 1 0 10 4.3H6.6"/><path d="M9.6 1.1 6.4 4.3 9.6 7.5"/></g></svg><div class="abs" style="left:661px;top:1367.5px;width:181px;height:35px;border:2px solid #e7e7e6;border-radius:8px;background:#fff"></div><div class="abs m22" style="left:668px;top:1373.0px;color:#111">inbound-api…</div><svg class="abs" style="left:870px;top:1375.2px" width="14" height="24" viewBox="0 0 14 24" fill="none" stroke="#141414" stroke-width="2.3" stroke-linecap="round" stroke-linejoin="round" ><path d="M4.3 5.3 9.5 1.9V16.6" stroke-linecap="butt" stroke-linejoin="miter"/></svg><div class="abs" style="left:1136px;top:1384.0px;width:11px;height:2px;background:#8a8a8a"></div><div class="hl" style="left:4px;top:1418px;width:1397px"></div><div class="vl" style="left:360px;top:1419px;height:66px"></div><div class="vl" style="left:645px;top:1419px;height:66px"></div><div class="vl" style="left:857px;top:1419px;height:66px"></div><div class="vl" style="left:1120px;top:1419px;height:66px"></div><svg class="abs" style="left:41.5px;top:1444.3px" width="11" height="15.4" viewBox="0 0 11 15.4" fill="none" stroke="#111" stroke-width="2.4" stroke-linecap="round" stroke-linejoin="round" ><path d="M2.2 2.2 L8.8 7.7 L2.2 13.200000000000001"/></svg><div class="abs m22" style="left:83px;top:1440.0px;color:#6e6e6e;-webkit-text-stroke:0.15px currentColor">2024-01-15 22:47:32</div><div class="abs" style="left:376px;top:1434.5px;width:89px;height:35px;border-radius:7px;background:#e3f2e8;border:2px solid #c7e6d1"></div><div class="abs" style="left:390px;top:1444.5px;width:15px;height:15px;border-radius:50%;background:#0a6631"></div><div class="abs" style="left:419px;top:1440.0px;font-family:'Liberation Mono', monospace;font-size:22px;line-height:26px;letter-spacing:0.7px;color:#0a6631;-webkit-text-stroke:0.4px #0a6631">200</div><svg class="abs" style="left:593.3px;top:1440.0px" width="26" height="28" viewBox="0 0 26 28" fill="none" stroke="#6a6a6a" stroke-width="1.9" stroke-linecap="round" stroke-linejoin="round" ><g transform="translate(1,1) scale(1.0)"><path d="M1 13.3A9 9 0 1 0 10 4.3H6.6"/><path d="M9.6 1.1 6.4 4.3 9.6 7.5"/></g></svg><div class="abs" style="left:661px;top:1434.5px;width:181px;height:35px;border:2px solid #e7e7e6;border-radius:8px;background:#fff"></div><div class="abs m22" style="left:668px;top:1440.0px;color:#111">inbound-api…</div><svg class="abs" style="left:870px;top:1442.2px" width="14" height="24" viewBox="0 0 14 24" fill="none" stroke="#141414" stroke-width="2.3" stroke-linecap="round" stroke-linejoin="round" ><path d="M4.3 5.3 9.5 1.9V16.6" stroke-linecap="butt" stroke-linejoin="miter"/></svg><div class="abs" style="left:1136px;top:1451.0px;width:11px;height:2px;background:#8a8a8a"></div><div class="hl" style="left:4px;top:1485px;width:1397px"></div><div class="vl" style="left:360px;top:1486px;height:66px"></div><div class="vl" style="left:645px;top:1486px;height:66px"></div><div class="vl" style="left:857px;top:1486px;height:66px"></div><div class="vl" style="left:1120px;top:1486px;height:66px"></div><svg class="abs" style="left:41.5px;top:1511.3px" width="11" height="15.4" viewBox="0 0 11 15.4" fill="none" stroke="#111" stroke-width="2.4" stroke-linecap="round" stroke-linejoin="round" ><path d="M2.2 2.2 L8.8 7.7 L2.2 13.200000000000001"/></svg><div class="abs m22" style="left:83px;top:1507.0px;color:#6e6e6e;-webkit-text-stroke:0.15px currentColor">2024-01-15 22:47:01</div><div class="abs" style="left:376px;top:1501.5px;width:89px;height:35px;border-radius:7px;background:#e3f2e8;border:2px solid #c7e6d1"></div><div class="abs" style="left:390px;top:1511.5px;width:15px;height:15px;border-radius:50%;background:#0a6631"></div><div class="abs" style="left:419px;top:1507.0px;font-family:'Liberation Mono', monospace;font-size:22px;line-height:26px;letter-spacing:0.7px;color:#0a6631;-webkit-text-stroke:0.4px #0a6631">200</div><svg class="abs" style="left:593.3px;top:1507.0px" width="26" height="28" viewBox="0 0 26 28" fill="none" stroke="#6a6a6a" stroke-width="1.9" stroke-linecap="round" stroke-linejoin="round" ><g transform="translate(1,1) scale(1.0)"><path d="M1 13.3A9 9 0 1 0 10 4.3H6.6"/><path d="M9.6 1.1 6.4 4.3 9.6 7.5"/></g></svg><div class="abs" style="left:661px;top:1501.5px;width:181px;height:35px;border:2px solid #e7e7e6;border-radius:8px;background:#fff"></div><div class="abs m22" style="left:668px;top:1507.0px;color:#111">inbound-api…</div><svg class="abs" style="left:870px;top:1509.2px" width="14" height="24" viewBox="0 0 14 24" fill="none" stroke="#141414" stroke-width="2.3" stroke-linecap="round" stroke-linejoin="round" ><path d="M4.3 5.3 9.5 1.9V16.6" stroke-linecap="butt" stroke-linejoin="miter"/></svg><div class="abs" style="left:1136px;top:1518.0px;width:11px;height:2px;background:#8a8a8a"></div><div class="hl" style="left:4px;top:1552px;width:1397px"></div><div class="vl" style="left:360px;top:1553px;height:66px"></div><div class="vl" style="left:645px;top:1553px;height:66px"></div><div class="vl" style="left:857px;top:1553px;height:66px"></div><div class="vl" style="left:1120px;top:1553px;height:66px"></div><svg class="abs" style="left:41.5px;top:1578.3px" width="11" height="15.4" viewBox="0 0 11 15.4" fill="none" stroke="#111" stroke-width="2.4" stroke-linecap="round" stroke-linejoin="round" ><path d="M2.2 2.2 L8.8 7.7 L2.2 13.200000000000001"/></svg><div class="abs m22" style="left:83px;top:1574.0px;color:#6e6e6e;-webkit-text-stroke:0.15px currentColor">2024-01-15 22:46:40</div><div class="abs" style="left:376px;top:1568.5px;width:89px;height:35px;border-radius:7px;background:#e3f2e8;border:2px solid #c7e6d1"></div><div class="abs" style="left:390px;top:1578.5px;width:15px;height:15px;border-radius:50%;background:#0a6631"></div><div class="abs" style="left:419px;top:1574.0px;font-family:'Liberation Mono', monospace;font-size:22px;line-height:26px;letter-spacing:0.7px;color:#0a6631;-webkit-text-stroke:0.4px #0a6631">200</div><svg class="abs" style="left:593.3px;top:1574.0px" width="26" height="28" viewBox="0 0 26 28" fill="none" stroke="#6a6a6a" stroke-width="1.9" stroke-linecap="round" stroke-linejoin="round" ><g transform="translate(1,1) scale(1.0)"><path d="M1 13.3A9 9 0 1 0 10 4.3H6.6"/><path d="M9.6 1.1 6.4 4.3 9.6 7.5"/></g></svg><div class="abs" style="left:661px;top:1568.5px;width:181px;height:35px;border:2px solid #e7e7e6;border-radius:8px;background:#fff"></div><div class="abs m22" style="left:668px;top:1574.0px;color:#111">inbound-api…</div><svg class="abs" style="left:870px;top:1576.2px" width="14" height="24" viewBox="0 0 14 24" fill="none" stroke="#141414" stroke-width="2.3" stroke-linecap="round" stroke-linejoin="round" ><path d="M4.3 5.3 9.5 1.9V16.6" stroke-linecap="butt" stroke-linejoin="miter"/></svg><div class="abs" style="left:1136px;top:1585.0px;width:11px;height:2px;background:#8a8a8a"></div><div class="hl" style="left:4px;top:1619px;width:1397px"></div>
<div class="hl" style="left:1403px;top:101px;width:757px"></div><div class="abs" style="left:1432.7px;top:31.0px;font-family:'Liberation Sans', sans-serif;font-size:24px;line-height:40px;letter-spacing:0.66px;color:#141414;">Attempt 1</div><svg class="abs" style="left:1795.7px;top:39px" width="26" height="28" viewBox="0 0 26 28" fill="none" stroke="#111" stroke-width="2.0" stroke-linecap="round" stroke-linejoin="round" ><g transform="translate(1,1) scale(1.0)"><path d="M1 13.3A9 9 0 1 0 10 4.3H6.6"/><path d="M9.6 1.1 6.4 4.3 9.6 7.5"/></g></svg><div class="abs" style="left:1835.5px;top:31.0px;font-family:'Liberation Sans', sans-serif;font-size:24px;line-height:40px;letter-spacing:0.82px;color:#141414;">Retry</div><svg class="abs" style="left:1948px;top:34px" width="32" height="32" viewBox="0 0 32 32" fill="none" stroke="#111" stroke-width="2.1" stroke-linecap="round" stroke-linejoin="round" ><path d="M14.7 7.9H10a2 2 0 0 0-2 2V22.6c0 1.3 1.2 1.9 2.3 1.4L14.3 22.2 18.3 24c1.1.5 2.1-.1 2.1-1.4V16.1"/><path d="M21.5 6.7 22.2 8.9 24.4 9.6 22.2 10.3 21.5 12.5 20.8 10.3 18.6 9.6 20.8 8.9z" fill="#111" stroke-width="1.2"/></svg><svg class="abs" style="left:2022px;top:38px" width="24" height="24" viewBox="0 0 24 24" fill="none" stroke="#111" stroke-width="2.2" stroke-linecap="round" stroke-linejoin="round" ><path d="M5.3 18.5 19.5 4.3M9.2 4.3H19.5V14.6"/></svg><svg class="abs" style="left:2096px;top:40px" width="22" height="22" viewBox="0 0 22 22" fill="none" stroke="#111" stroke-width="2.2" stroke-linecap="round" stroke-linejoin="round" ><path d="M5 5 17.2 17.5M17.2 5 5 17.5"/></svg><div class="card" style="top:132.5px;height:208.5px"></div><div class="abs" style="left:1462.9px;top:153.8px;font-family:'Liberation Sans', sans-serif;font-size:23px;line-height:40px;letter-spacing:0.3px;color:#141414;">Status</div><div class="abs" style="left:1463px;top:200.4px;width:93px;height:35px;border-radius:7px;background:#e3f2e8;border:2px solid #c7e6d1"></div><div class="abs" style="left:1477px;top:210.4px;width:15px;height:15px;border-radius:50%;background:#0a6631"></div><div class="abs" style="left:1506px;top:205.9px;font-family:'Liberation Mono', monospace;font-size:22px;line-height:26px;letter-spacing:0.7px;color:#0a6631;-webkit-text-stroke:0.4px #0a6631">200</div><div class="hl" style="left:1434px;top:257px;width:700px"></div><div class="abs" style="left:1463.9px;top:280.2px;font-family:'Liberation Sans', sans-serif;font-size:23px;line-height:40px;letter-spacing:0.19px;color:#0b47d8;">View Metadata</div><svg class="abs" style="left:1633px;top:288px" width="16" height="24" viewBox="0 0 16 24" fill="none" stroke="#0b47d8" stroke-width="2.2" stroke-linecap="round" stroke-linejoin="round" ><path d="M2.2 8 8 2.2 13.8 8M2.2 16 8 21.8 13.8 16"/></svg><div class="abs" style="left:1453.7px;top:375.9px;font-family:'Liberation Sans', sans-serif;font-size:24px;line-height:40px;letter-spacing:0.55px;color:#141414;">Request</div><div class="abs" style="left:1603.1px;top:375.5px;font-family:'Liberation Sans', sans-serif;font-size:24px;line-height:40px;letter-spacing:0.79px;color:#777;">Response</div><div class="hl" style="left:1403px;top:436px;width:757px"></div><div class="abs" style="left:1439.5px;top:432px;width:122px;height:5.5px;background:#0b47d8;border-radius:3px"></div><svg class="abs" style="left:2022.5px;top:383px" width="24" height="26" viewBox="0 0 24 26" fill="none" stroke="#111" stroke-width="2.2" stroke-linecap="round" stroke-linejoin="round" ><rect x="6.3" y="1.1" width="13.7" height="16.6" rx="2"/><path d="M2 5.3V20a2 2 0 0 0 2 2h11.8"/></svg><div class="abs" style="left:2062.8px;top:375.9px;font-family:'Liberation Sans', sans-serif;font-size:24px;line-height:40px;letter-spacing:-0.37px;color:#141414;">cURL</div><div class="card" style="top:466.5px;height:475.5px"></div><div class="abs" style="left:1462.9px;top:488.4px;font-family:'Liberation Sans', sans-serif;font-size:23px;line-height:40px;letter-spacing:0.28px;color:#141414;">Headers</div><div class="hl" style="left:1434px;top:547.8px;width:700px"></div><svg class="abs" style="left:1458.8px;top:568.4px" width="22" height="22" viewBox="0 0 22 22" fill="none" stroke="#111" stroke-width="2.6" stroke-linecap="round" stroke-linejoin="round" ><circle cx="8.5" cy="8.5" r="6.2"/><path d="M13.2 13.2 19.5 19.5"/></svg><div class="abs" style="left:1499.3px;top:559.5px;font-family:'Liberation Sans', sans-serif;font-size:24px;line-height:40px;letter-spacing:0.25px;color:#8a8a8a;">Search...</div><div class="hl" style="left:1434px;top:607.8px;width:700px"></div><div class="abs m22" style="left:1462px;top:638px;color:#7a7a7a;-webkit-text-stroke:0.1px currentColor">content-length</div><div class="abs m22" style="left:1462px;top:682px;color:#111">124</div><div class="hl" style="left:1434px;top:733px;width:700px"></div><div class="abs m22" style="left:1462px;top:764px;color:#7a7a7a;-webkit-text-stroke:0.1px currentColor">content-type</div><div class="abs m22" style="left:1462px;top:807px;color:#111">application/json</div><div class="hl" style="left:1434px;top:858.5px;width:700px"></div><div class="abs" style="left:1463.3px;top:880.7px;font-family:'Liberation Sans', sans-serif;font-size:23px;line-height:40px;letter-spacing:0.27px;color:#0b47d8;">View All 4</div><svg class="abs" style="left:1580px;top:889.5px" width="16" height="24" viewBox="0 0 16 24" fill="none" stroke="#0b47d8" stroke-width="2.2" stroke-linecap="round" stroke-linejoin="round" ><path d="M2.2 8 8 2.2 13.8 8M2.2 16 8 21.8 13.8 16"/></svg><div class="card" style="top:971px;height:165px"></div><div class="abs" style="left:1461.3px;top:993.3px;font-family:'Liberation Sans', sans-serif;font-size:23px;line-height:40px;letter-spacing:0.83px;color:#141414;">Path</div><svg class="abs" style="left:2068.6px;top:1000.5px" width="24" height="26" viewBox="0 0 24 26" fill="none" stroke="#111" stroke-width="2.2" stroke-linecap="round" stroke-linejoin="round" ><rect x="6.3" y="1.1" width="13.7" height="16.6" rx="2"/><path d="M2 5.3V20a2 2 0 0 0 2 2h11.8"/></svg><div class="abs" style="left:1434px;top:1053px;width:700px;height:81px;background:#f4f4f4;border-top:2px solid #e7e7e6;border-radius:0 0 10px 10px"></div><div class="abs m22" style="left:1462px;top:1084px;color:#111">/track</div><div class="card" style="top:1165.5px;height:394.5px;background:#f4f4f4"></div><div class="abs" style="left:1435px;top:1168px;width:700px;height:79px;background:#fff"></div><div class="abs" style="left:1462.8px;top:1187.3px;font-family:'Liberation Sans', sans-serif;font-size:23px;line-height:40px;letter-spacing:0.3px;color:#141414;">Body</div><svg class="abs" style="left:1820px;top:1190px" width="40" height="34" viewBox="0 0 40 34" fill="none" stroke="#111" stroke-width="2.0" stroke-linecap="round" stroke-linejoin="round" ><path d="M17.6 9.3C15.5 9.3 14.35 10.3 14.35 12.3V13.8C14.35 15.6 13.5 16.8 11.8 17C13.5 17.2 14.35 18.4 14.35 20.2V21.7C14.35 23.7 15.5 24.7 17.6 24.7"/><path d="M25.6 9.3C27.7 9.3 28.85 10.3 28.85 12.3V13.8C28.85 15.6 29.7 16.8 31.4 17C29.7 17.2 28.85 18.4 28.85 20.2V21.7C28.85 23.7 27.7 24.7 25.6 24.7"/></svg><div class="abs" style="left:1871.2px;top:1187.6px;font-family:'Liberation Sans', sans-serif;font-size:23px;line-height:40px;letter-spacing:0.49px;color:#141414;">Structured</div><svg class="abs" style="left:2003.5px;top:1202px" width="15.5" height="10" viewBox="0 0 15.5 10" fill="none" stroke="#666" stroke-width="2.0" stroke-linecap="round" stroke-linejoin="round" ><path d="M2.0 2.0 L7.75 8.0 L13.5 2.0"/></svg><svg class="abs" style="left:2068.6px;top:1194px" width="24" height="26" viewBox="0 0 24 26" fill="none" stroke="#111" stroke-width="2.2" stroke-linecap="round" stroke-linejoin="round" ><rect x="6.3" y="1.1" width="13.7" height="16.6" rx="2"/><path d="M2 5.3V20a2 2 0 0 0 2 2h11.8"/></svg><div class="abs" style="left:1435px;top:1247px;width:700px;height:61px;background:#fff;border-top:2px solid #e7e7e6;border-bottom:2px solid #e7e7e6"></div><svg class="abs" style="left:1458.8px;top:1266.9px" width="22" height="22" viewBox="0 0 22 22" fill="none" stroke="#111" stroke-width="2.6" stroke-linecap="round" stroke-linejoin="round" ><circle cx="8.5" cy="8.5" r="6.2"/><path d="M13.2 13.2 19.5 19.5"/></svg><div class="abs" style="left:1499.3px;top:1257.5px;font-family:'Liberation Sans', sans-serif;font-size:24px;line-height:40px;letter-spacing:0.25px;color:#8a8a8a;">Search...</div><div class="abs" style="left:1463px;top:1336px;font-family:'Liberation Mono', monospace;font-size:22px;line-height:26px;letter-spacing:0">{</div><div class="abs" style="left:1480.5px;top:1337.5px;font-family:'Liberation Mono', monospace;font-size:20px;line-height:26px;letter-spacing:0.2px;color:#7a7a7a">4 items</div><svg class="abs" style="left:1574px;top:1340px" width="16" height="18" viewBox="0 0 16 18" fill="none" stroke="#7a7a7a" stroke-width="1.8" stroke-linecap="round" stroke-linejoin="round" ><path d="M7.6 15.8V1.6M1.9 7.3 7.6 1.6 13.3 7.3"/></svg><div class="abs" style="left:1970.8px;top:1328.1px;font-family:'Liberation Sans', sans-serif;font-size:20.5px;line-height:40px;letter-spacing:0.24px;color:#141414;">Collapse All</div><svg class="abs" style="left:2088px;top:1340px" width="16" height="18" viewBox="0 0 16 18" fill="none" stroke="#111" stroke-width="1.8" stroke-linecap="round" stroke-linejoin="round" ><path d="M7.8 15.8V1.8M1.9 7.8 7.8 1.8 13.7 7.8"/></svg><div class="abs" style="left:1480.5px;top:1366.5px;font-family:'Liberation Mono', monospace;font-size:23.7px;line-height:34px;letter-spacing:0;color:#111;-webkit-text-stroke:0.3px currentColor">"event_type": <span style="color:#177a3c">"mouse.click"</span>,</div><div class="abs" style="left:1480.5px;top:1400.8px;font-family:'Liberation Mono', monospace;font-size:23.7px;line-height:34px;letter-spacing:0;color:#111;-webkit-text-stroke:0.3px currentColor">"click_x": <span style="color:#177a3c">"339"</span>,</div><div class="abs" style="left:1480.5px;top:1435.1px;font-family:'Liberation Mono', monospace;font-size:23.7px;line-height:34px;letter-spacing:0;color:#111;-webkit-text-stroke:0.3px currentColor">"click_y": <span style="color:#177a3c">"318"</span>,</div><div class="abs" style="left:1480.5px;top:1469.4px;font-family:'Liberation Mono', monospace;font-size:23.7px;line-height:34px;letter-spacing:0;color:#111;-webkit-text-stroke:0.3px currentColor">"timestamp": <span style="color:#177a3c">"2024-01-15T22:39:29.964Z"</span></div><div class="abs" style="left:1463px;top:1504px;font-family:'Liberation Mono', monospace;font-size:23.7px;line-height:34px;letter-spacing:0;color:#111;-webkit-text-stroke:0.3px currentColor">}</div>
</body></html>
